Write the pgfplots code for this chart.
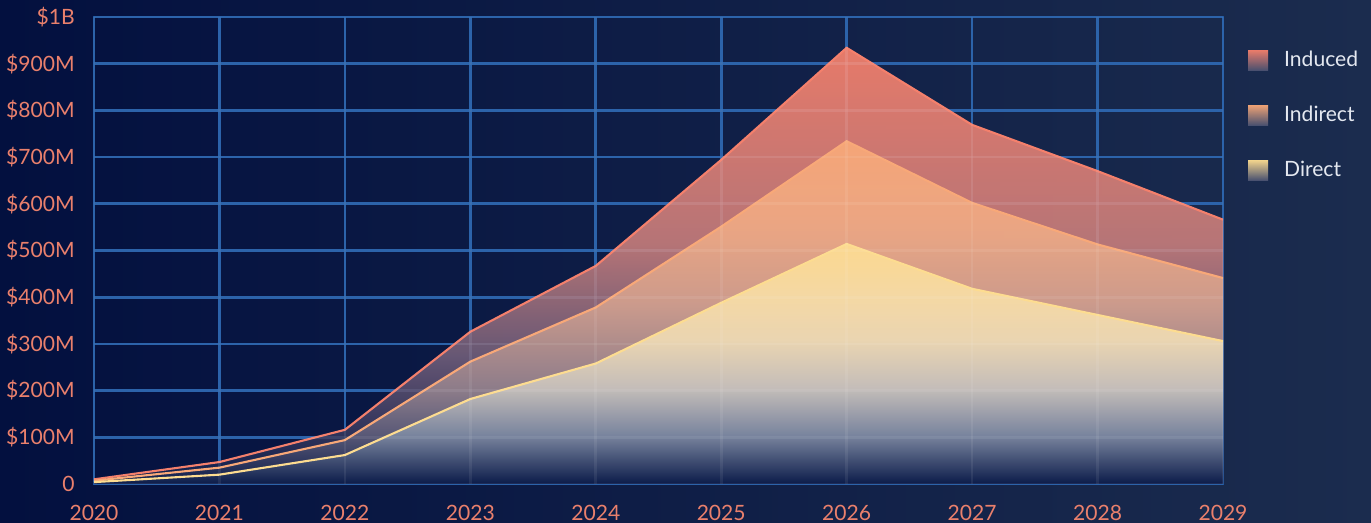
\documentclass[border=0pt]{standalone}
\usepackage{fontspec}
\setmainfont{Lato}
\usepackage{pgfplots}
\pgfplotsset{compat=1.18}

\definecolor{bgl}{HTML}{03103F}
\definecolor{bgr}{HTML}{1B2C4E}
\definecolor{gridblue}{HTML}{1D58A4}
\definecolor{ticktxt}{HTML}{EA806C}
\definecolor{legtxt}{HTML}{E4E8F0}
\definecolor{induced}{HTML}{F4806C}
\definecolor{indirect}{HTML}{F8A878}
\definecolor{direct}{HTML}{FDDC90}
\definecolor{navyb}{HTML}{0C1C4A}
\definecolor{legbot}{HTML}{4A5272}

\definecolor{iA}{HTML}{6E5C78}
\definecolor{iB}{HTML}{C07A7A}
\definecolor{nA}{HTML}{5A5A78}
\definecolor{nB}{HTML}{8F7F8C}
\definecolor{nC}{HTML}{CF9E8E}
\definecolor{nD}{HTML}{EEA984}
\definecolor{dA}{HTML}{7A86A0}
\definecolor{dB}{HTML}{C8C2BC}
\definecolor{dC}{HTML}{EEDAB4}
\definecolor{dD}{HTML}{F8DCA4}

\pgfdeclareverticalshading{inducedfade}{100bp}{color(0bp)=(navyb); color(25bp)=(navyb);
  color(40bp)=(iA); color(52.5bp)=(iB); color(75bp)=(induced); color(100bp)=(induced)}
\pgfdeclareverticalshading{indirectfade}{100bp}{color(0bp)=(navyb); color(25bp)=(navyb);
  color(32bp)=(nA); color(38.5bp)=(nB); color(51bp)=(nC); color(62.5bp)=(nD);
  color(75bp)=(indirect); color(100bp)=(indirect)}
\pgfdeclareverticalshading{directfade}{100bp}{color(0bp)=(navyb); color(25bp)=(navyb);
  color(35bp)=(dA); color(45bp)=(dB); color(55bp)=(dC); color(65bp)=(dD);
  color(75bp)=(direct); color(100bp)=(direct)}

% values in millions of dollars
\pgfplotstableread{
year induced indirect direct
2020 10 7 4
2021 47 35 20
2022 116 94 62
2023 326 262 182
2024 467 378 258
2025 694 551 388
2026 934 734 514
2027 769 602 418
2028 670 513 362
2029 566 441 306
}\econdata

\begin{document}
\begin{tikzpicture}
\useasboundingbox (0,0) rectangle (27.42cm,10.46cm);
\shade[left color=bgl, right color=bgr] (0,0) rectangle (27.42cm,10.46cm);

\begin{axis}[
    at={(1.88cm,0.78cm)}, anchor=south west,
    scale only axis, width=22.58cm, height=9.34cm,
    xmin=2020, xmax=2029, ymin=0, ymax=1000,
    xtick={2020,2021,...,2029},
    xticklabels={2020,2021,2022,2023,2024,2025,2026,2027,2028,2029},
    ytick={0,100,...,1000},
    yticklabels={0,\$100M,\$200M,\$300M,\$400M,\$500M,\$600M,\$700M,\$800M,\$900M,\$1B},
    major tick length=0pt,
    grid=major,
    major grid style={gridblue, line width=1.5pt},
    axis line style={gridblue, line width=1.5pt},
    tick label style={text=ticktxt, font=\fontsize{12}{14}\selectfont},
    yticklabel style={anchor=east, inner sep=0pt, xshift=-0.38cm},
    xticklabel style={anchor=north, inner sep=0pt, yshift=-0.42cm},
    legend style={draw=none, fill=none, text=legtxt, font=\fontsize{12}{14}\selectfont,
        at={(rel axis cs:1.022,0.929)}, anchor=north west, inner sep=0pt,
        row sep=0.70cm, nodes={inner sep=0pt}},
    legend cell align=left,
]
\addplot[draw=none, shading=inducedfade, fill opacity=0.94,
    legend image code/.code={\shade[top color=induced, bottom color=legbot]
        (0cm,-0.2cm) rectangle (0.4cm,0.2cm); \path (0.72cm,0);}]
    table[x=year, y=induced] {\econdata} \closedcycle;
\addlegendentry{Induced}
\addplot[induced, line width=1.2pt, forget plot] table[x=year, y=induced] {\econdata};

\addplot[draw=none, shading=indirectfade, fill opacity=0.94,
    legend image code/.code={\shade[top color=indirect, bottom color=legbot]
        (0cm,-0.2cm) rectangle (0.4cm,0.2cm); \path (0.72cm,0);}]
    table[x=year, y=indirect] {\econdata} \closedcycle;
\addlegendentry{Indirect}
\addplot[indirect, line width=1.2pt, forget plot] table[x=year, y=indirect] {\econdata};

\addplot[draw=none, shading=directfade, fill opacity=0.94,
    legend image code/.code={\shade[top color=direct, bottom color=legbot]
        (0cm,-0.2cm) rectangle (0.4cm,0.2cm); \path (0.72cm,0);}]
    table[x=year, y=direct] {\econdata} \closedcycle;
\addlegendentry{Direct}
\addplot[direct, line width=1.2pt, forget plot] table[x=year, y=direct] {\econdata};
\end{axis}

% faint grid over the areas
\begin{axis}[
    at={(1.88cm,0.78cm)}, anchor=south west,
    scale only axis, width=22.58cm, height=9.34cm,
    xmin=2020, xmax=2029, ymin=0, ymax=1000,
    xtick={2020,2021,...,2029}, ytick={0,100,...,1000},
    xticklabels={}, yticklabels={},
    major tick length=0pt,
    grid=major,
    major grid style={white, opacity=0.07, line width=1.5pt},
    axis line style={draw=none},
]
\end{axis}
\end{tikzpicture}
\end{document}
